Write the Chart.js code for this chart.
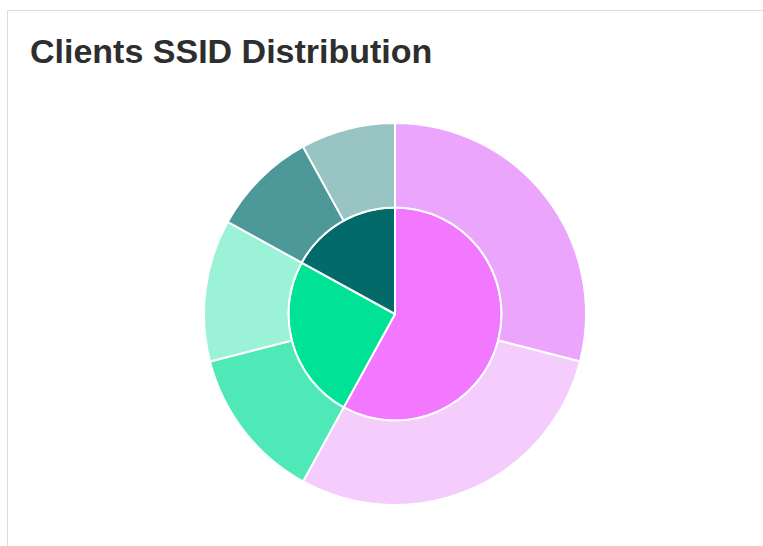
<!DOCTYPE html>
<html>
<head>
<meta charset="utf-8">
<script src="https://cdn.jsdelivr.net/npm/chart.js@4"></script>
<style>
  html, body { margin: 0; padding: 0; background: #fff; width: 763px; height: 546px; overflow: hidden; }
  .card { position: absolute; left: 7px; top: 10px; width: 820px; height: 620px; border: 1px solid #dcdcdc; box-sizing: border-box; }
  .title { position: absolute; left: 30px; top: 31px; margin: 0; font-family: "Liberation Sans", Arial, sans-serif; font-weight: bold; font-size: 34px; line-height: 40px; color: #2e2e2e; white-space: nowrap; }
  #wrap { position: absolute; left: 203px; top: 122px; width: 384px; height: 384px; }
</style>
</head>
<body>
<div class="card"></div>
<h1 class="title">Clients SSID Distribution</h1>
<div id="wrap"><canvas id="c" width="384" height="384"></canvas></div>
<script>
// Inner pie: client share per SSID
const ssidLabels = ['SSID 1', 'SSID 2', 'SSID 3'];
const ssidValues = [58, 25, 17];
const ssidColors = ['#f279ff', '#00e396', '#036a6a'];

// Outer ring: each SSID split into two sub-groups
const subLabels = ['SSID 1 · A', 'SSID 1 · B', 'SSID 2 · A', 'SSID 2 · B', 'SSID 3 · A', 'SSID 3 · B'];
const subValues = [29, 29, 13, 12, 9, 8];
const subColors = ['#eba5fc', '#f4cdfd', '#4ee9b6', '#9cf2d6', '#4d9999', '#99c4c4'];

new Chart(document.getElementById('c'), {
  type: 'doughnut',
  data: {
    labels: subLabels,
    datasets: [
      {
        label: 'Sub-groups',
        data: subValues,
        backgroundColor: subColors,
        borderColor: '#ffffff',
        borderWidth: 2,
        hoverOffset: 0,
        weight: 84
      },
      {
        label: 'SSID',
        labels: ssidLabels,
        data: ssidValues,
        backgroundColor: ssidColors,
        borderColor: '#ffffff',
        borderWidth: 2,
        hoverOffset: 0,
        weight: 106
      }
    ]
  },
  options: {
    responsive: false,
    animation: false,
    cutout: 0,
    layout: { padding: 0 },
    plugins: {
      legend: { display: false },
      tooltip: { enabled: false },
      title: { display: false }
    }
  }
});
</script>
</body>
</html>
